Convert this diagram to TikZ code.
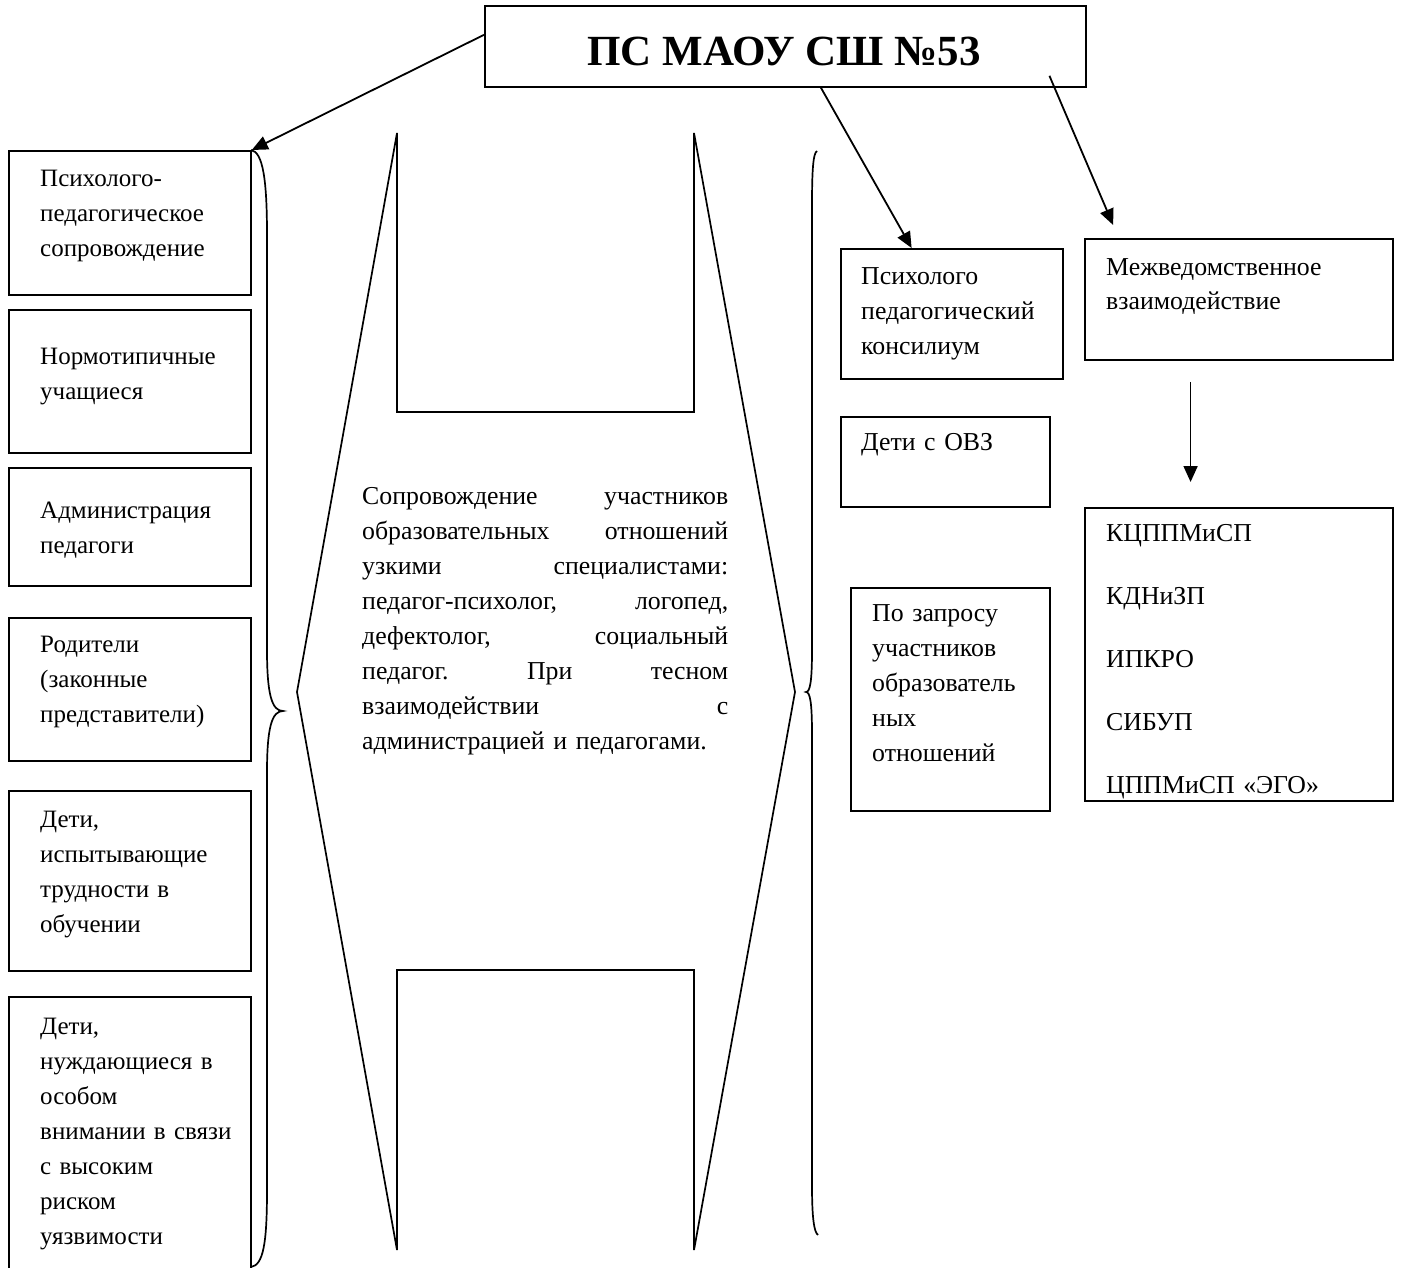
\documentclass[tikz,border=0pt]{standalone}
\usepackage{fontspec}
\setmainfont{Liberation Serif}
\usetikzlibrary{arrows.meta,calc}
\tikzset{
  box/.style={draw, line width=1.8pt, inner sep=0pt, anchor=north west},
  txt/.style={anchor=base west, inner sep=0pt, align=left, text width=#1, font=\fontsize{25}{35}\selectfont},
  txt/.default=215pt,
  rtxt/.style={anchor=base west, inner sep=0pt, align=left, text width=#1, font=\fontsize{25.8}{35}\selectfont},
  arr/.style={line width=1.8pt, -{Triangle[length=16pt,width=14pt]}},
  outline/.style={line width=1.7pt, line join=miter},
}
\newcommand{\jline}[1]{\makebox[366pt][l]{#1}}
\begin{document}
\begin{tikzpicture}[x=1pt,y=-1pt]
\useasboundingbox (0,0) rectangle (1403,1268);
% title
\node[box, minimum width=601pt, minimum height=81pt] (title) at (484,5) {};
\node[anchor=base, inner sep=0pt, font=\bfseries\fontsize{43}{45}\selectfont] (titletext) at (784,66) {ПС МАОУ СШ №53};
% left column
\node[box, minimum width=242pt, minimum height=144pt] (b1) at (8,150) {};
\node[txt] (t1) at (40,187) {Психолого-\\педагогическое\\сопровождение};
\node[box, minimum width=242pt, minimum height=143pt] (b2) at (8,309) {};
\node[txt] (t2) at (40,364) {Нормотипичные\\учащиеся};
\node[box, minimum width=242pt, minimum height=118pt] (b3) at (8,467) {};
\node[txt] (t3) at (40,518) {Администрация\\педагоги};
\node[box, minimum width=242pt, minimum height=143pt] (b4) at (8,617) {};
\node[txt] (t4) at (40,652) {Родители\\(законные\\представители)};
\node[box, minimum width=242pt, minimum height=180pt] (b5) at (8,790) {};
\node[txt] (t5) at (40,827) {Дети,\\испытывающие\\трудности в\\обучении};
\node[box, minimum width=242pt, minimum height=285pt] (b6) at (8,996) {};
\node[txt] (t6) at (40,1034) {Дети,\\нуждающиеся в\\особом\\внимании в связи\\с высоким\\риском\\уязвимости};
% left brace
\draw[outline] (251,150) .. controls (263,152) and (267,180) .. (267,235) -- (267,650)
  .. controls (267,695) and (272,711) .. (283,711)
  .. controls (272,711) and (267,727) .. (267,772) -- (267,1190)
  .. controls (267,1245) and (263,1265) .. (251,1267);
% central shape
\draw[outline] (397,133) -- (397,412) -- (694,412) -- (694,133) -- (795,692) -- (694,1250)
  -- (694,970) -- (397,970) -- (397,1250) -- (297,692) -- cycle;
\node[anchor=base west, inner sep=0pt, align=left, text width=366pt, font=\fontsize{25.8}{35}\selectfont] (center) at (362,504)
 {\jline{Сопровождение\hfill участников}\\
  \jline{образовательных\hfill отношений}\\
  \jline{узкими\hfill специалистами:}\\
  \jline{педагог-психолог,\hfill логопед,}\\
  \jline{дефектолог,\hfill социальный}\\
  \jline{педагог.\hfill При\hfill тесном}\\
  \jline{взаимодействии\hfill с}\\
  администрацией и педагогами.};
% right brace
\draw[outline] (817,151) .. controls (813,153) and (812,172) .. (812,205) -- (812,650)
  .. controls (812,682) and (810,692) .. (806,692)
  .. controls (810,692) and (812,702) .. (812,734) -- (812,1185)
  .. controls (812,1218) and (814,1232) .. (818,1235);
% right column
\node[box, minimum width=222pt, minimum height=130pt] (kons) at (840,248) {};
\node[rtxt=200pt] (tk) at (861,284) {Психолого\\педагогический\\консилиум};
\node[box, minimum width=308pt, minimum height=121pt] (mezh) at (1084,238) {};
\node[rtxt=280pt] (tm) at (1106,275) {Межведомственное\\взаимодействие};
\node[box, minimum width=209pt, minimum height=90pt] (ovz) at (840,416) {};
\node[rtxt=180pt] (to) at (861,450) {Дети с ОВЗ};
\node[box, minimum width=199pt, minimum height=223pt] (zapros) at (850,587) {};
\node[rtxt=175pt] (tz) at (872,621) {По запросу\\участников\\образователь\\ных\\отношений};
\node[box, minimum width=308pt, minimum height=293pt] (list) at (1084,507) {};
\node[anchor=base west, inner sep=0pt, align=left, text width=280pt, font=\fontsize{25.8}{63}\selectfont] (tl) at (1106,541)
 {КЦППМиСП\\КДНиЗП\\ИПКРО\\СИБУП\\ЦППМиСП «ЭГО»};
% connector end points
\coordinate (a1s) at ($(title.north west)!0.36!(title.south west)$);
\coordinate (a2s) at ($(title.south west)!0.559!(title.south east)$);
\coordinate (a2e) at ($(kons.north west)!0.32!(kons.north east)$);
\coordinate (a3s) at ($(title.south west)!0.938!(title.south east)+(0,-12)$);
\coordinate (a3e) at ($(mezh.north west)!0.094!(mezh.north east)+(0,-13)$);
\coordinate (a4s) at ($(mezh.south west)!0.344!(mezh.south east)+(0,21)$);
\coordinate (a4e) at ($(list.north west)!0.344!(list.north east)+(0,-25)$);
% arrows
\draw[arr] (a1s) -- (b1.north east);
\draw[arr] (a2s) -- (a2e);
\draw[arr] (a3s) -- (a3e);
\draw[arr] (a4s) -- (a4e);
\end{tikzpicture}
\end{document}
